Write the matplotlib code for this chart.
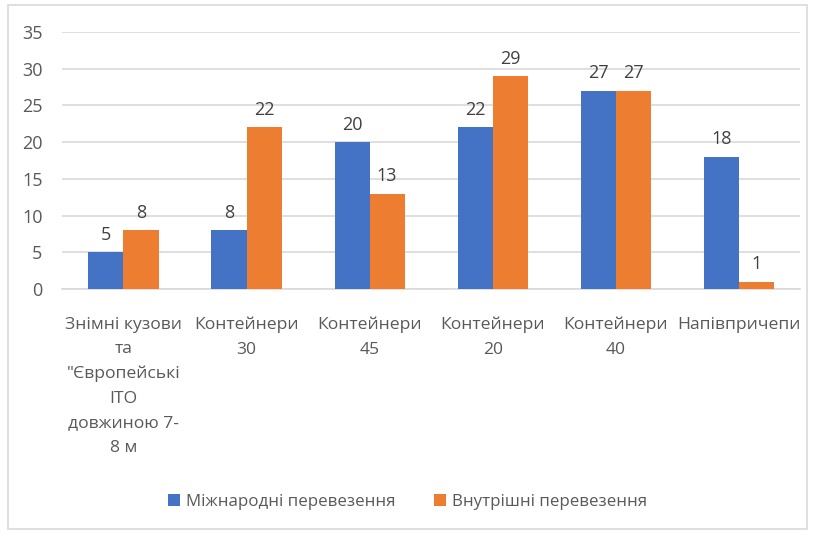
import matplotlib
matplotlib.use("Agg")
import matplotlib.pyplot as plt
import numpy as np
from matplotlib.patches import Rectangle

plt.rcParams['font.family'] = ['Open Sans', 'DejaVu Sans']

categories = ['Знімні кузови\nта\n"Європейські\nІТО\nдовжиною 7-\n8 м',
              'Контейнери\n30', 'Контейнери\n45', 'Контейнери\n20',
              'Контейнери\n40', 'Напівпричепи']
intl = [5, 8, 20, 22, 27, 18]
domestic = [8, 22, 13, 29, 27, 1]
series_names = ['Міжнародні перевезення', 'Внутрішні перевезення']

blue = '#4472C4'
orange = '#ED7D31'
txt = '#595959'

fig = plt.figure(figsize=(8.15, 5.35), dpi=100)
ax = fig.add_axes([0.076, 0.46, 0.906, 0.48])
fig.patches.append(Rectangle((0.01, 0.012), 0.98, 0.978, transform=fig.transFigure,
                             fill=False, edgecolor='#D9D9D9', linewidth=1.2))

x = np.arange(len(categories))
w = 0.285
b1 = ax.bar(x - w/2, intl, w, color=blue, label=series_names[0], zorder=3)
b2 = ax.bar(x + w/2, domestic, w, color=orange, label=series_names[1], zorder=3)

for bars in (b1, b2):
    for r in bars:
        ax.annotate(str(int(r.get_height())), (r.get_x() + r.get_width()/2, r.get_height()),
                    xytext=(0, 6), textcoords='offset points', ha='center', va='bottom',
                    fontsize=13, color='#404040')

ax.set_xlim(-0.5, len(categories) - 0.5)
ax.set_ylim(0, 35)
ax.set_yticks(range(0, 36, 5))
ax.yaxis.grid(True, color='#D9D9D9', linewidth=1.2, zorder=0)
ax.set_xticks(x)
ax.set_xticklabels(categories, fontsize=12.6, color=txt, linespacing=1.7)
ax.tick_params(axis='y', labelsize=13, labelcolor=txt, length=0, pad=14)
ax.tick_params(axis='x', length=0, pad=20)
for s in ['top', 'right', 'left']:
    ax.spines[s].set_visible(False)
ax.spines['bottom'].set_color('#D9D9D9')
ax.spines['bottom'].set_linewidth(1.2)

leg = fig.legend(loc='center', bbox_to_anchor=(0.50, 0.062), ncol=2, frameon=False,
                 fontsize=12.2, handlelength=0.7, handleheight=0.7, columnspacing=2.3,
                 handletextpad=0.35)
for t in leg.get_texts():
    t.set_color(txt)

fig.savefig('out.png', dpi=100, facecolor='white')
